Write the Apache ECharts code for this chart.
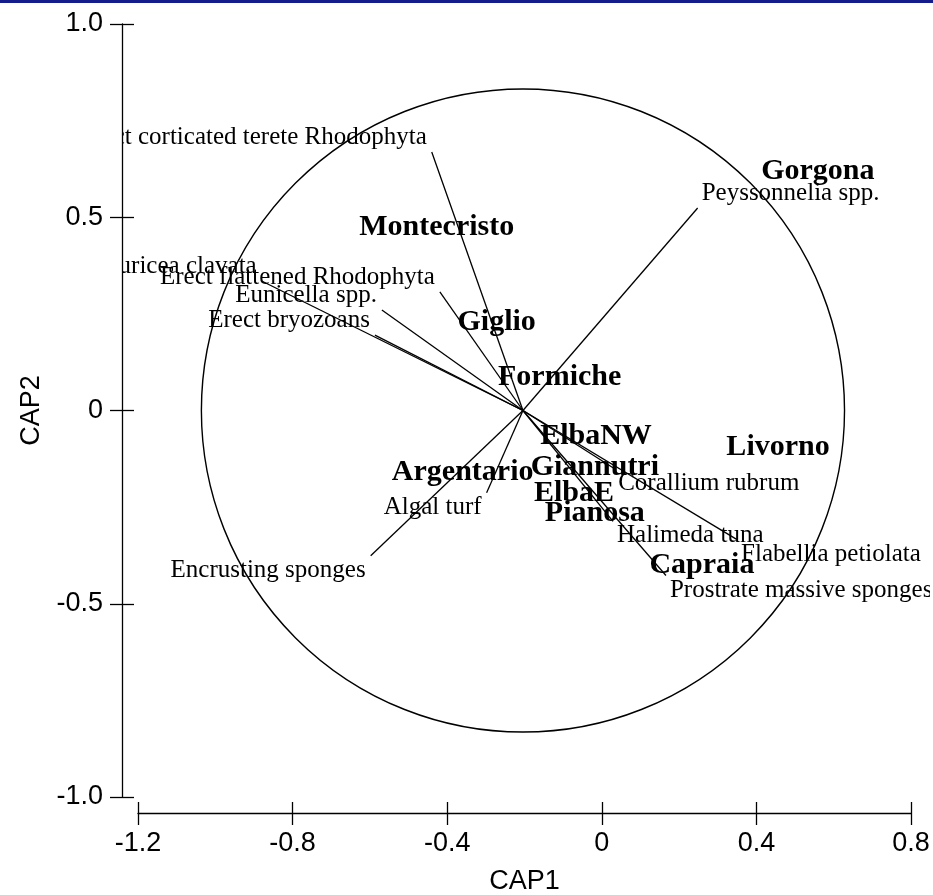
<!DOCTYPE html>
<html><head><meta charset="utf-8">
<script src="https://cdn.jsdelivr.net/npm/echarts@6/dist/echarts.min.js"></script>
<style>html,body{margin:0;padding:0;background:#fff}#c{width:933px;height:895px}</style>
</head><body><div id="c"></div>
<script>
// ---- data ----
const xTicks = [-1.2, -0.8, -0.4, 0, 0.4, 0.8];
const yTicks = [-1.0, -0.5, 0, 0.5, 1.0];
const vectorOrigin = [-0.204, 0];
const circleRadius = 0.832;

const vectorNames = [
  'Erect corticated terete Rhodophyta', 'Paramuricea clavata', 'Erect flattened Rhodophyta',
  'Eunicella spp.', 'Erect bryozoans', 'Peyssonnelia spp.', 'Encrusting sponges', 'Algal turf',
  'Corallium rubrum', 'Halimeda tuna', 'Flabellia petiolata', 'Prostrate massive sponges'
];
const vectorX = [-0.440, -0.880, -0.419, -0.569, -0.587, 0.248, -0.598, -0.298, 0.032, 0.029, 0.350, 0.166];
const vectorY = [ 0.669,  0.335,  0.307,  0.260,  0.195, 0.524, -0.376, -0.213, -0.150, -0.287, -0.334, -0.427];

const siteNames = ['Gorgona', 'Montecristo', 'Giglio', 'Formiche', 'ElbaNW', 'Livorno',
  'Giannutri', 'Argentario', 'ElbaE', 'Pianosa', 'Capraia'];
const siteX = [0.559, -0.427, -0.272, -0.109, -0.015, 0.456, -0.018, -0.360, -0.072, -0.018, 0.259];
const siteY = [0.618, 0.474, 0.228, 0.086, -0.067, -0.096, -0.146, -0.159, -0.213, -0.265, -0.400];

// ---- chart ----
const chart = echarts.init(document.getElementById('c'), null, {renderer: 'canvas'});
const fmt = v => (Math.abs(v) < 1e-9 ? '0' : v.toFixed(1));
const axisFont = 'Liberation Sans';
const black = '#000';

const vectorData = vectorNames.map((n, i) => [vectorX[i], vectorY[i], i]);
const siteData = siteNames.map((n, i) => [siteX[i], siteY[i], i]);

function renderCircle(params, api) {
  const c = api.coord([api.value(0), api.value(1)]);
  const r = api.size([api.value(2), 0])[0];
  return {type: 'circle', shape: {cx: c[0], cy: c[1], r: r},
    style: {fill: 'none', stroke: black, lineWidth: 1.4}, silent: true};
}

function renderVector(params, api) {
  const i = api.value(2);
  const p0 = api.coord(vectorOrigin);
  const p1 = api.coord([api.value(0), api.value(1)]);
  const dx = p1[0] - p0[0], dy = p1[1] - p0[1];
  const cs = params.coordSys;
  const goesLeft = dx < 0, goesUp = dy < 0;
  const clipLeft = cs.x - 16;
  return {
    type: 'group',
    clipPath: {type: 'rect', shape: {x: clipLeft, y: 0, width: api.getWidth() - 3 - clipLeft, height: api.getHeight()}},
    children: [
      {type: 'line', shape: {x1: p0[0], y1: p0[1], x2: p1[0], y2: p1[1]},
        style: {stroke: black, lineWidth: 1.3}},
      {type: 'text', x: p1[0] + (goesLeft ? -5 : 4), y: p1[1] + (goesUp ? -2 : 2),
        style: {text: vectorNames[i], font: '25px "Liberation Serif"', fill: black,
          align: goesLeft ? 'right' : 'left', verticalAlign: goesUp ? 'bottom' : 'top'}}
    ]
  };
}

function renderSite(params, api) {
  const i = api.value(2);
  const p = api.coord([api.value(0), api.value(1)]);
  return {type: 'text', x: p[0], y: p[1],
    style: {text: siteNames[i], font: 'bold 30px "Liberation Serif"', fill: black,
      align: 'center', verticalAlign: 'middle'}};
}

const gridBox = {left: 138, right: 22, top: 24, bottom: 98, containLabel: false, outerBoundsMode: 'none'};
const lineStyle = {color: black, width: 1.3};

chart.setOption({
  backgroundColor: '#fff',
  animation: false,
  graphic: [{type: 'rect', left: 0, top: 0, shape: {width: 933, height: 3}, style: {fill: '#141c8c'}}],
  grid: [Object.assign({}, gridBox), Object.assign({}, gridBox)],
  xAxis: [{
    gridIndex: 0, type: 'value', min: xTicks[0], max: xTicks[xTicks.length - 1], interval: 0.4,
    position: 'bottom', offset: 16,
    axisLine: {show: true, onZero: false, lineStyle},
    axisTick: {show: true, length: 12, lineStyle},
    axisLabel: {color: black, fontSize: 27, fontFamily: axisFont, margin: 17, formatter: fmt},
    splitLine: {show: false},
    name: 'CAP1', nameLocation: 'middle', nameGap: 55,
    nameTextStyle: {color: black, fontSize: 27, fontFamily: axisFont}
  }, {
    gridIndex: 1, type: 'value', min: xTicks[0], max: xTicks[xTicks.length - 1], interval: 0.4,
    position: 'bottom', offset: 16,
    axisLine: {show: false, onZero: false},
    axisTick: {show: true, inside: true, length: 11, lineStyle},
    axisLabel: {show: false}, splitLine: {show: false}
  }],
  yAxis: [{
    gridIndex: 0, type: 'value', min: yTicks[0], max: yTicks[yTicks.length - 1], interval: 0.5,
    position: 'left', offset: 16,
    axisLine: {show: true, onZero: false, lineStyle},
    axisTick: {show: true, length: 12, lineStyle},
    axisLabel: {color: black, fontSize: 27, fontFamily: axisFont, margin: 19, formatter: fmt},
    splitLine: {show: false},
    name: 'CAP2', nameLocation: 'middle', nameGap: 77,
    nameTextStyle: {color: black, fontSize: 27, fontFamily: axisFont}
  }, {
    gridIndex: 1, type: 'value', min: yTicks[0], max: yTicks[yTicks.length - 1], interval: 0.5,
    position: 'left', offset: 16,
    axisLine: {show: false, onZero: false},
    axisTick: {show: true, inside: true, length: 12, lineStyle},
    axisLabel: {show: false}, splitLine: {show: false}
  }],
  series: [
    {type: 'custom', xAxisIndex: 0, yAxisIndex: 0, clip: false, renderItem: renderCircle,
      data: [[vectorOrigin[0], vectorOrigin[1], circleRadius]], silent: true},
    {type: 'custom', xAxisIndex: 0, yAxisIndex: 0, clip: false, renderItem: renderVector,
      data: vectorData, silent: true},
    {type: 'custom', xAxisIndex: 0, yAxisIndex: 0, clip: false, renderItem: renderSite,
      data: siteData, silent: true}
  ]
});
</script>
</body></html>
